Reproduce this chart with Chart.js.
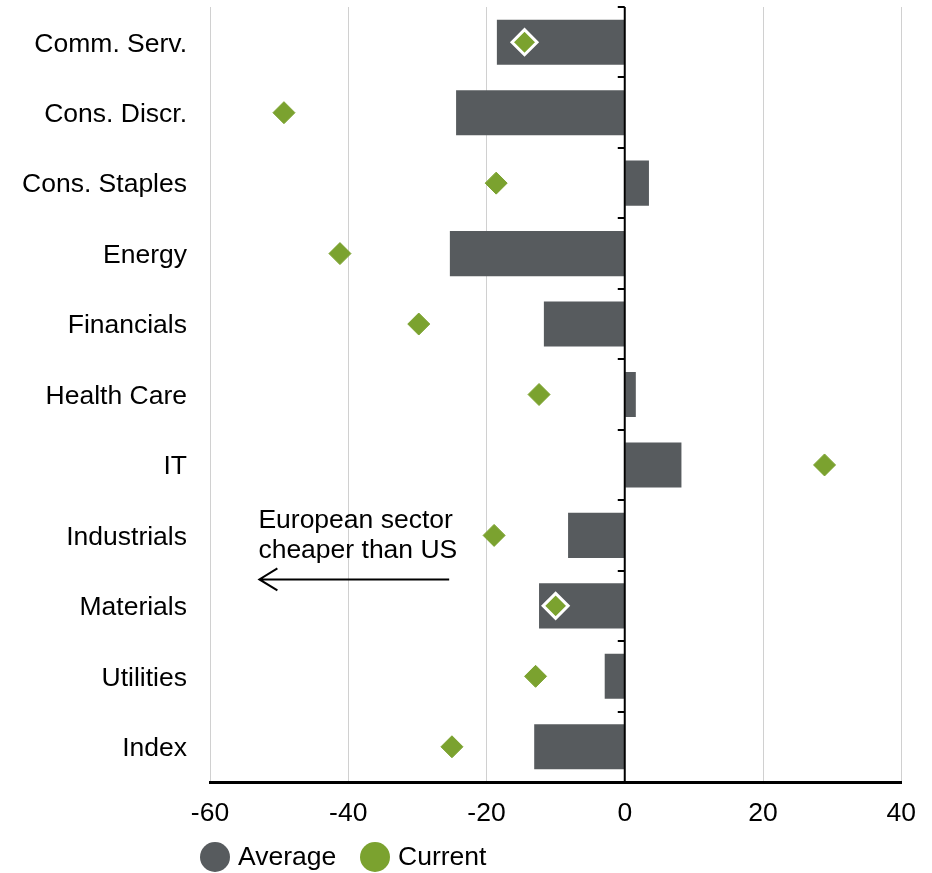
<!DOCTYPE html>
<html>
<head>
<meta charset="utf-8">
<script src="https://cdn.jsdelivr.net/npm/chart.js@4"></script>
<style>
  html, body { margin: 0; padding: 0; background: #fff; }
  #wrap { width: 932px; height: 873px; }
</style>
</head>
<body>
<div id="wrap"><canvas id="grafico"></canvas></div>
<script>
const categories = ['Comm. Serv.', 'Cons. Discr.', 'Cons. Staples', 'Energy', 'Financials', 'Health Care', 'IT', 'Industrials', 'Materials', 'Utilities', 'Index']
const averageValues = [-18.5, -24.4, 3.5, -25.3, -11.7, 1.6, 8.2, -8.2, -12.4, -2.9, -13.1]
const currentValues = [-14.5, -49.3, -18.6, -41.2, -29.8, -12.4, 28.9, -18.9, -10.0, -12.9, -25.0]
const xTicks = [-60, -40, -20, 0, 20, 40]
const seriesNames = ['Average', 'Current']

const cinza = '#575b5e'
const verde = '#7ba22f'
const fonte = '"Liberation Sans", Arial, sans-serif'

// diamonds sitting on top of a bar get a white outline
const dentro = currentValues.map((v, i) => {
    const a = averageValues[i]
    return a < 0 ? (v >= a && v <= 0) : (v <= a && v >= 0)
})

const eixoZero = {
    id: 'eixoZero',
    afterDatasetsDraw(chart) {
        const {ctx, chartArea: {top, bottom}, scales: {x, y}} = chart
        const x0 = x.getPixelForValue(0)
        ctx.save()
        ctx.strokeStyle = '#000'
        ctx.lineWidth = 2
        ctx.beginPath()
        ctx.moveTo(x0, top)
        ctx.lineTo(x0, bottom)
        ctx.stroke()
        const passo = (bottom - top) / categories.length
        for (let i = 0; i <= categories.length; i++) {
            const yy = Math.round(top + i * passo)
            ctx.beginPath()
            ctx.moveTo(x0 - 7, yy)
            ctx.lineTo(x0, yy)
            ctx.stroke()
        }
        ctx.restore()
    }
}

const nota = {
    id: 'nota',
    afterDraw(chart) {
        const {ctx, scales: {x, y}} = chart
        const esq = x.getPixelForValue(-53)
        const dir = x.getPixelForValue(-25.4)
        const yc = y.getPixelForValue(7)
        ctx.save()
        ctx.font = '26.5px ' + fonte
        ctx.fillStyle = '#000'
        ctx.textAlign = 'left'
        ctx.textBaseline = 'middle'
        ctx.fillText('European sector', esq, yc - 15)
        ctx.fillText('cheaper than US', esq, yc + 15)
        const ya = yc + 44
        ctx.strokeStyle = '#000'
        ctx.lineWidth = 2
        ctx.beginPath()
        ctx.moveTo(dir, ya)
        ctx.lineTo(esq + 1, ya)
        ctx.moveTo(esq + 19, ya - 11)
        ctx.lineTo(esq + 1, ya)
        ctx.lineTo(esq + 19, ya + 11)
        ctx.stroke()

        // legend
        const ly = 857
        const itens = [[215, cinza, seriesNames[0]], [375, verde, seriesNames[1]]]
        itens.forEach(([cx, cor, txt]) => {
            ctx.fillStyle = cor
            ctx.beginPath()
            ctx.arc(cx, ly, 15, 0, Math.PI * 2)
            ctx.fill()
            ctx.fillStyle = '#000'
            ctx.fillText(txt, cx + 23, ly + 1)
        })
        ctx.restore()
    }
}

new Chart(document.getElementById('grafico'), {
    data: {
        labels: categories,
        datasets: [
            {
                type: 'line',
                label: seriesNames[1],
                indexAxis: 'y',
                data: currentValues,
                showLine: false,
                pointStyle: 'rectRot',
                pointRadius: dentro.map(d => d ? 12.5 : 11),
                pointBackgroundColor: verde,
                pointBorderColor: dentro.map(d => d ? '#fff' : verde),
                pointBorderWidth: dentro.map(d => d ? 3 : 1),
                order: 1
            },
            {
                type: 'bar',
                label: seriesNames[0],
                data: averageValues,
                backgroundColor: cinza,
                borderWidth: 0,
                categoryPercentage: 1,
                barPercentage: 0.64,
                order: 2
            }
        ]
    },
    options: {
        indexAxis: 'y',
        responsive: true,
        maintainAspectRatio: false,
        animation: false,
        layout: { autoPadding: false, padding: { top: 7, right: 30, bottom: 46, left: 0 } },
        plugins: {
            legend: { display: false },
            tooltip: { enabled: false }
        },
        scales: {
            x: {
                min: -60,
                max: 40,
                afterBuildTicks(scale) { scale.ticks = xTicks.map(v => ({value: v})) },
                afterFit(scale) { scale.height = 45 },
                grid: { color: '#d0d0d0', lineWidth: 1, drawTicks: false },
                border: { color: '#000', width: 3 },
                ticks: { color: '#000', font: { size: 26.5, family: fonte }, padding: 16, maxRotation: 0 }
            },
            y: {
                afterFit(scale) { scale.width = 210; scale.paddingTop = 0; scale.paddingBottom = 0 },
                grid: { display: false, drawTicks: false },
                border: { display: false },
                ticks: { color: '#000', font: { size: 26.5, family: fonte }, padding: 23, labelOffset: 2 }
            }
        }
    },
    plugins: [eixoZero, nota]
})
</script>
</body>
</html>
